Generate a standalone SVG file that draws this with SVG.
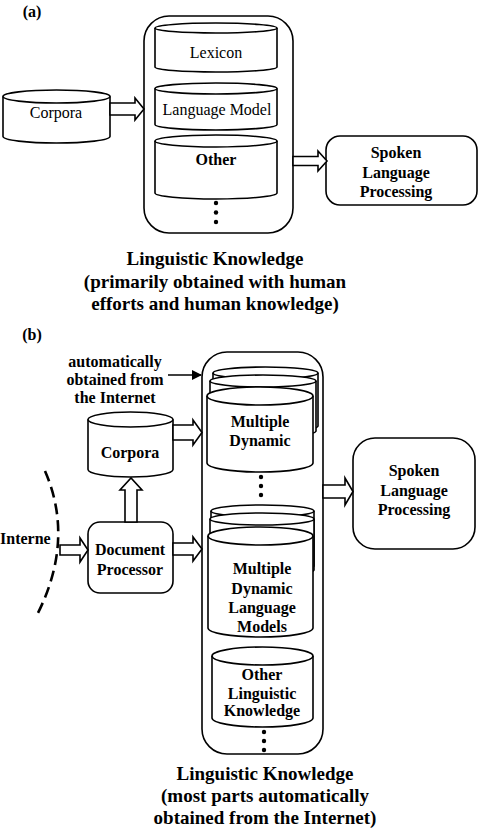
<svg xmlns="http://www.w3.org/2000/svg" width="478" height="838" viewBox="0 0 478 838">
<style>
.s{fill:#fff;stroke:#000;stroke-width:1.6}
.ln{fill:none;stroke:#000;stroke-width:1.6}
.t{font-family:'Liberation Serif','DejaVu Serif','Noto Serif',serif;font-size:16px;fill:#000;text-anchor:middle}
.b{font-weight:bold}
.h{font-family:'Liberation Serif','DejaVu Serif','Noto Serif',serif;font-size:19px;font-weight:bold;fill:#000;text-anchor:middle}
.dot{fill:#000}
</style>
<defs>
<marker id="ah" markerWidth="10" markerHeight="10" refX="9" refY="5" orient="auto" markerUnits="userSpaceOnUse">
<path d="M0,0 L10,5 L0,10 Z" fill="#000"/>
</marker>
</defs>
<rect width="478" height="838" fill="#fff"/>

<text class="t b" x="32" y="17">(a)</text>

<g id="containerA"><rect class="s" x="144" y="16" width="149" height="217" rx="25"/></g>

<g id="lexicon">
<path class="s" d="M155,28 A61,5 0 0 1 277,28 V67 A61,5 0 0 1 155,67 Z"/>
<path class="ln" d="M155,28 A61,5 0 0 0 277,28"/>
<text class="t" x="216" y="58">Lexicon</text>
</g>
<g id="languageModel">
<path class="s" d="M155,88.5 A61,5.5 0 0 1 277,88.5 V124.5 A61,5.5 0 0 1 155,124.5 Z"/>
<path class="ln" d="M155,88.5 A61,5.5 0 0 0 277,88.5"/>
<text class="t" x="217" y="115">Language Model</text>
</g>
<g id="otherA">
<path class="s" d="M155,141 A61,6 0 0 1 277,141 V193 A61,6 0 0 1 155,193 Z"/>
<path class="ln" d="M155,141 A61,6 0 0 0 277,141"/>
<text class="t b" x="216" y="165">Other</text>
</g>
<g id="dotsA">
<circle class="dot" cx="216" cy="203" r="2.2"/><circle class="dot" cx="216" cy="212.5" r="2.2"/><circle class="dot" cx="216" cy="222" r="2.2"/>
</g>

<g id="corporaA">
<path class="s" d="M3,96.5 A53.5,6.5 0 0 1 110,96.5 V136.5 A53.5,6.5 0 0 1 3,136.5 Z"/>
<path class="ln" d="M3,96.5 A53.5,6.5 0 0 0 110,96.5"/>
<text class="t" x="56" y="118">Corpora</text>
</g>

<g id="spokenA">
<rect class="s" x="326" y="136" width="151" height="69" rx="14"/>
<text class="t b" x="396" y="158">Spoken</text>
<text class="t b" x="396" y="178">Language</text>
<text class="t b" x="396" y="197">Processing</text>
</g>

<g id="titleA">
<text class="h" x="215" y="265">Linguistic Knowledge</text>
<text class="h" x="215" y="288">(primarily obtained with human</text>
<text class="h" x="215" y="310">efforts and human knowledge)</text>
</g>

<text class="t b" x="32" y="340">(b)</text>

<g id="containerB"><rect class="s" x="202" y="352" width="121" height="402" rx="25"/></g>

<g id="dynamicStack">
<path class="s" d="M213,373 A52.5,6 0 0 1 318,373 V426 A52.5,6 0 0 1 213,426 Z"/>
<path class="ln" d="M213,373 A52.5,6 0 0 0 318,373"/>
<path class="s" d="M210,381 A53,6 0 0 1 316,381 V431 A53,6 0 0 1 210,431 Z"/>
<path class="ln" d="M210,381 A53,6 0 0 0 316,381"/>
<path class="s" d="M207,396 A53,9 0 0 1 313,396 V463 A53,9 0 0 1 207,463 Z"/>
<path class="ln" d="M207,396 A53,9 0 0 0 313,396"/>
<text class="t b" x="260" y="427">Multiple</text>
<text class="t b" x="260" y="446">Dynamic</text>
</g>
<g id="dotsB1">
<circle class="dot" cx="261" cy="477" r="2.2"/><circle class="dot" cx="261" cy="486" r="2.2"/><circle class="dot" cx="261" cy="495" r="2.2"/>
</g>

<g id="lmStack">
<path class="s" d="M211,511 A51.5,6 0 0 1 314,511 V566 A51.5,6 0 0 1 211,566 Z"/>
<path class="ln" d="M211,511 A51.5,6 0 0 0 314,511"/>
<path class="s" d="M210,519 A52,6 0 0 1 314,519 V570 A52,6 0 0 1 210,570 Z"/>
<path class="ln" d="M210,519 A52,6 0 0 0 314,519"/>
<path class="s" d="M208,536 A52.5,9 0 0 1 313,536 V628 A52.5,9 0 0 1 208,628 Z"/>
<path class="ln" d="M208,536 A52.5,9 0 0 0 313,536"/>
<text class="t b" x="262" y="574">Multiple</text>
<text class="t b" x="262" y="594">Dynamic</text>
<text class="t b" x="262" y="613">Language</text>
<text class="t b" x="262" y="632">Models</text>
</g>

<g id="otherB">
<path class="s" d="M212,656 A50.5,9 0 0 1 313,656 V718 A50.5,9 0 0 1 212,718 Z"/>
<path class="ln" d="M212,656 A50.5,9 0 0 0 313,656"/>
<text class="t b" x="262" y="680">Other</text>
<text class="t b" x="262" y="699">Linguistic</text>
<text class="t b" x="262" y="716">Knowledge</text>
</g>
<g id="dotsB2">
<circle class="dot" cx="264" cy="732" r="2.2"/><circle class="dot" cx="264" cy="741" r="2.2"/><circle class="dot" cx="264" cy="750" r="2.2"/>
</g>

<g id="corporaB">
<path class="s" d="M88,419.5 A42.5,7.5 0 0 1 173,419.5 V469.5 A42.5,7.5 0 0 1 88,469.5 Z"/>
<path class="ln" d="M88,419.5 A42.5,7.5 0 0 0 173,419.5"/>
<text class="t b" x="130" y="458">Corpora</text>
</g>

<g id="docProc">
<rect class="s" x="88" y="522" width="85" height="71" rx="12"/>
<text class="t b" x="130" y="555">Document</text>
<text class="t b" x="130" y="575">Processor</text>
</g>

<g id="spokenB">
<rect class="s" x="353" y="438" width="122" height="111" rx="22"/>
<text class="t b" x="414" y="476">Spoken</text>
<text class="t b" x="414" y="496">Language</text>
<text class="t b" x="414" y="515">Processing</text>
</g>

<g id="internetLabel">
<text class="t b" x="0" y="544" style="text-anchor:start">Interne</text>
<path d="M45,471 Q75,540 37,615" fill="none" stroke="#000" stroke-width="2.6" stroke-dasharray="11,6"/>
</g>

<g id="autoLabel">
<text class="t b" x="115" y="367">automatically</text>
<text class="t b" x="115" y="385">obtained from</text>
<text class="t b" x="115" y="403">the Internet</text>
</g>

<g id="connectors">
<path class="s" d="M110,103 H135 V98 L144,109 L135,120 V115 H110 Z"/>
<path class="s" d="M293,156.5 H318 V151 L327,161 L318,171 V165.5 H293 Z"/>
<path class="ln" d="M168,375 H201" marker-end="url(#ah)"/>
<path class="s" d="M173,425 H193 V420 L202,432.5 L193,445 V440 H173 Z"/>
<path class="s" d="M125,522 V490 H120 L131,478 L142,490 H137 V522 Z"/>
<path class="s" d="M60,545 H80 V538 L88,550 L80,562 V555 H60 Z"/>
<path class="s" d="M173,543 H193 V537 L202,549 L193,561 V555 H173 Z"/>
<path class="s" d="M323,485 H345 V478 L353,491.5 L345,505 V498 H323 Z"/>
</g>

<g id="titleB">
<text class="h" x="265" y="780">Linguistic Knowledge</text>
<text class="h" x="265" y="802">(most parts automatically</text>
<text class="h" x="265" y="824">obtained from the Internet)</text>
</g>
</svg>
